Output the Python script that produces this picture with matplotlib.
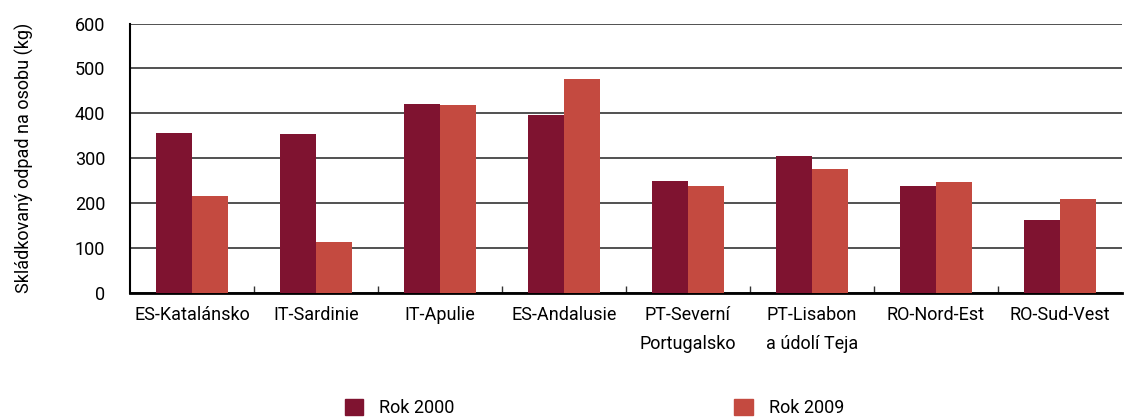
import matplotlib
matplotlib.use("Agg")
import matplotlib.pyplot as plt
import numpy as np
from matplotlib.patches import Patch
from matplotlib.ticker import FixedLocator

plt.rcParams['font.family'] = ['Roboto', 'DejaVu Sans']

categories = ["ES-Katalánsko", "IT-Sardinie", "IT-Apulie", "ES-Andalusie",
              "PT-Severní\nPortugalsko", "PT-Lisabon\na údolí Teja", "RO-Nord-Est", "RO-Sud-Vest"]
rok2000 = [356, 353, 420, 396, 250, 306, 238, 163]
rok2009 = [216, 113, 418, 476, 238, 275, 247, 209]
series_names = ["Rok 2000", "Rok 2009"]
yticks = [0, 100, 200, 300, 400, 500, 600]

c1 = "#7F1330"
c2 = "#C44A40"
fs = 13

fig = plt.figure(figsize=(11.26, 4.19), dpi=100)
ax = fig.add_axes([130/1126, 1-293/419, 992/1126, (293-23.5)/419])

x = np.arange(len(categories))
w = 0.287
ax.bar(x - w/2, rok2000, w, color=c1, zorder=3)
ax.bar(x + w/2, rok2009, w, color=c2, zorder=3)

ax.set_xlim(-0.5, len(categories) - 0.5)
ax.set_ylim(0, 600)
ax.set_yticks(yticks)
ax.yaxis.grid(True, color="#333333", linewidth=1.2, zorder=0)
ax.set_axisbelow(True)
for s in ["top", "right"]:
    ax.spines[s].set_visible(False)
ax.spines["left"].set_linewidth(1.5)
ax.spines["bottom"].set_linewidth(2)
ax.tick_params(axis="y", length=0, pad=18, labelsize=fs)
ax.set_xticks(x)
ax.set_xticklabels(categories, fontsize=fs, linespacing=1.85, va="top")
ax.tick_params(axis="x", which="major", length=0, pad=9)
ax.xaxis.set_minor_locator(FixedLocator(list(np.arange(0.5, len(categories) - 1, 1.0))))
ax.tick_params(axis="x", which="minor", direction="in", length=5, width=1, color="#333333")
ax.set_ylabel("Skládkovaný odpad na osobu (kg)", fontsize=fs)
ax.yaxis.set_label_coords(-0.097, 0.5)

handles = [Patch(color=c1, label=series_names[0]), Patch(color=c2, label=series_names[1])]
fig.legend(handles=handles, loc="center", bbox_to_anchor=(0.528, 0.027), ncol=2,
           frameon=False, fontsize=fs, columnspacing=15.5, handlelength=1.0, handleheight=1.0,
           handletextpad=0.9)

fig.savefig("out.png", dpi=100)
